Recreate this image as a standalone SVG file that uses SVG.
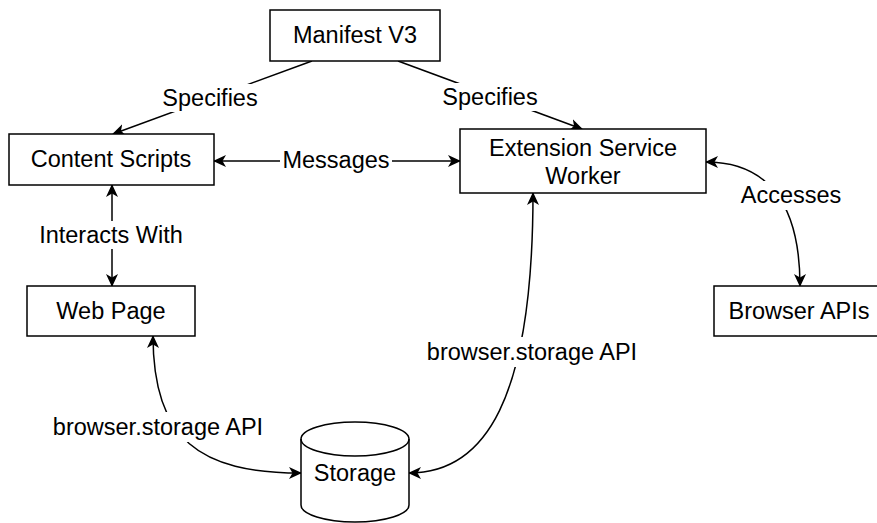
<svg xmlns="http://www.w3.org/2000/svg" width="877" height="523" viewBox="0 0 877 523">
<defs>
<style>
.box{fill:#fff;stroke:#000;stroke-width:1.5}
.t{font-family:"Liberation Sans",Arial,sans-serif;font-size:23.5px;fill:#000;text-anchor:middle;dominant-baseline:central}
.e{fill:none;stroke:#000;stroke-width:1.5}
.lb{fill:#fff;stroke:none}
</style>
<marker id="ah" viewBox="0 0 13 12" refX="12" refY="6" markerWidth="13" markerHeight="12" markerUnits="userSpaceOnUse" orient="auto-start-reverse">
<path d="M0,0 L13,6 L0,12 L3.5,6 Z" fill="#000"/>
</marker>
</defs>
<rect width="877" height="523" fill="#fff"/>
<g id="connectors">
<path class="e" d="M312,61 L113,134" marker-end="url(#ah)"/>
<path class="e" d="M398,61 L582,129" marker-end="url(#ah)"/>
<path class="e" d="M214,161 L460,161" marker-start="url(#ah)" marker-end="url(#ah)"/>
<path class="e" d="M112,185 L112,286" marker-start="url(#ah)" marker-end="url(#ah)"/>
<path class="e" d="M153,336 C153,440 200,473 301,473" marker-start="url(#ah)" marker-end="url(#ah)"/>
<path class="e" d="M533,193 C533,400 485,473 409,473" marker-start="url(#ah)" marker-end="url(#ah)"/>
<path class="e" d="M706,162 C765,162 800,200 800,286" marker-start="url(#ah)" marker-end="url(#ah)"/>
<g id="labels">
<rect class="lb" x="160" y="84" width="100" height="28"/>
<text class="t" x="210" y="98">Specifies</text>
<rect class="lb" x="440" y="83" width="100" height="28"/>
<text class="t" x="490" y="97">Specifies</text>
<rect class="lb" x="280" y="147" width="112" height="28"/>
<text class="t" x="336" y="160">Messages</text>
<rect class="lb" x="36" y="221" width="150" height="28"/>
<text class="t" x="111" y="235">Interacts With</text>
<rect class="lb" x="50" y="412" width="216" height="30"/>
<text class="t" x="158" y="427">browser.storage API</text>
<rect class="lb" x="424" y="337" width="217" height="30"/>
<text class="t" x="532" y="352">browser.storage API</text>
<rect class="lb" x="738" y="181" width="106" height="29"/>
<text class="t" x="791" y="195">Accesses</text>
</g>
</g>
<g id="manifest">
<rect class="box" x="270" y="10" width="170" height="51"/>
<text class="t" x="355" y="35">Manifest V3</text>
</g>
<g id="content-scripts">
<rect class="box" x="9" y="134" width="205" height="51"/>
<text class="t" x="111" y="159">Content Scripts</text>
</g>
<g id="service-worker">
<rect class="box" x="460" y="129" width="246" height="64"/>
<text class="t" x="583" y="148">Extension Service</text>
<text class="t" x="583" y="176">Worker</text>
</g>
<g id="web-page">
<rect class="box" x="27" y="286" width="168" height="50"/>
<text class="t" x="111" y="311">Web Page</text>
</g>
<g id="browser-apis">
<rect class="box" x="714" y="286" width="170" height="50"/>
<text class="t" x="799" y="311">Browser APIs</text>
</g>
<g id="storage">
<path class="box" d="M301,439 A54,17 0 0 1 409,439 L409,505 A54,17 0 0 1 301,505 Z"/>
<path class="e" d="M301,439 A54,17 0 0 0 409,439"/>
<text class="t" x="355" y="473">Storage</text>
</g>
</svg>
